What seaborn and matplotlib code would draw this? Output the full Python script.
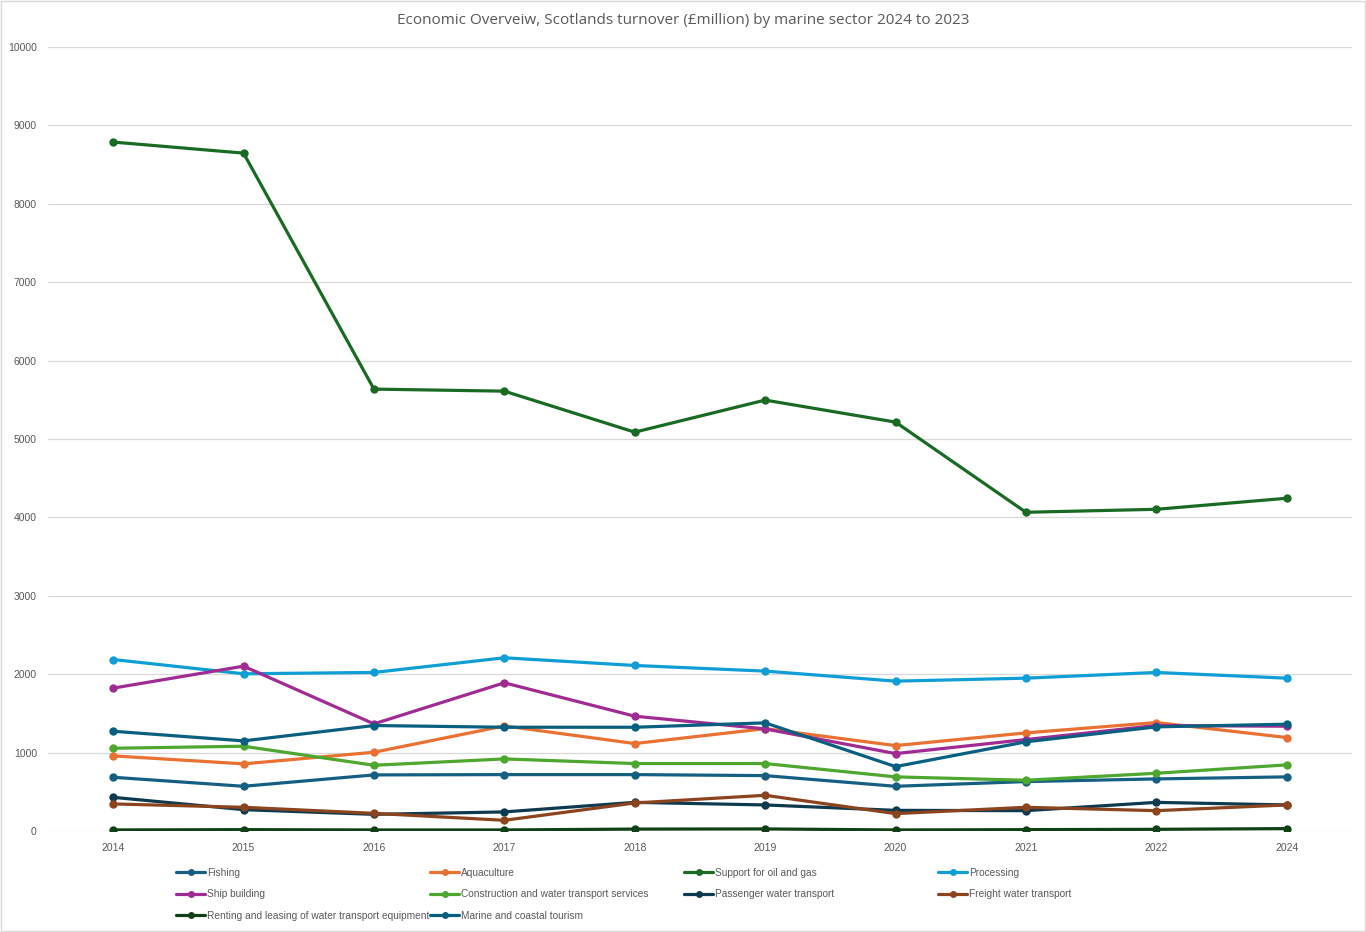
import pandas as pd
import matplotlib
matplotlib.use("Agg")
import matplotlib.pyplot as plt
from matplotlib.lines import Line2D
import seaborn as sns

# ---- data (turnover, £million) ----
years = ["2014", "2015", "2016", "2017", "2018", "2019", "2020", "2021", "2022", "2024"]

fishing = [685, 570, 715, 719, 719, 706, 570, 630, 664, 690]
aquaculture = [958, 856, 1004, 1340, 1115, 1305, 1089, 1251, 1383, 1192]
oil_gas = [8787, 8646, 5636, 5610, 5087, 5496, 5215, 4065, 4103, 4244]
processing = [2187, 2005, 2022, 2209, 2111, 2039, 1911, 1949, 2022, 1949]
ship_building = [1822, 2102, 1366, 1890, 1464, 1302, 987, 1166, 1345, 1336]
construction = [1055, 1081, 838, 919, 860, 860, 690, 647, 736, 843]
passenger = [429, 272, 212, 243, 365, 332, 263, 259, 365, 332]
freight = [345, 302, 225, 136, 357, 455, 221, 302, 259, 332]
renting = [13, 17, 13, 13, 24, 26, 13, 17, 21, 30]
tourism = [1272, 1149, 1345, 1323, 1323, 1379, 821, 1137, 1328, 1362]

sectors = [
    "Fishing", "Aquaculture", "Support for oil and gas", "Processing",
    "Ship building", "Construction and water transport services",
    "Passenger water transport", "Freight water transport",
    "Renting and leasing of water transport equipment", "Marine and coastal tourism",
]
series = [fishing, aquaculture, oil_gas, processing, ship_building,
          construction, passenger, freight, renting, tourism]
colors = ["#156082", "#E97132", "#196B24", "#0F9ED5", "#A02B93",
          "#4EA72E", "#0D3A4E", "#8C441E", "#0F4016", "#095F80"]

rows = []
for name, vals in zip(sectors, series):
    for yr, v in zip(years, vals):
        rows.append({"year": yr, "sector": name, "value": v})
df = pd.DataFrame(rows)

sns.set_theme(style="white")
plt.rcParams["font.family"] = ["Liberation Sans", "DejaVu Sans"]

fig = plt.figure(figsize=(13.66, 9.32), dpi=100)
ax = fig.add_axes([0.0351, 0.1084, 0.9546, 0.8412])

palette = dict(zip(sectors, colors))
sns.lineplot(data=df, x="year", y="value", hue="sector", hue_order=sectors,
             palette=palette, marker="o", markersize=6, markeredgewidth=0,
             linewidth=2.3, sort=False, legend=False, ax=ax)

ax.set_xlim(-0.5, len(years) - 0.5)
ax.set_ylim(0, 10000)
ax.set_yticks(range(0, 10001, 1000))
ax.yaxis.grid(True, color="#D9D9D9", linewidth=0.9)
ax.set_axisbelow(True)
for s in ax.spines.values():
    s.set_visible(False)
ax.set_xlabel("")
ax.set_ylabel("")
ax.tick_params(axis="both", length=0, labelsize=7.5, labelcolor="#595959")
ax.tick_params(axis="y", pad=8)
ax.tick_params(axis="x", pad=9)

fig.text(0.5, 0.978, "Economic Overveiw, Scotlands turnover (£million) by marine sector 2024 to 2023",
         ha="center", va="center", fontsize=11, color="#595959",
         family=["Open Sans", "DejaVu Sans"])

# legend: four columns at fixed positions, filled row by row
col_x = [176, 430, 684, 938]
for c in range(4):
    idx = list(range(c, len(sectors), 4))
    handles = [Line2D([0], [0], color=colors[i], linewidth=2.3, marker="o",
                      markersize=5, markeredgewidth=0) for i in idx]
    labels = [sectors[i] for i in idx]
    fig.legend(handles, labels, loc="upper left",
               bbox_to_anchor=(col_x[c] / 1366, 1 - 867.5 / 932),
               frameon=False, fontsize=7.3, labelcolor="#595959",
               handlelength=2.9, handletextpad=0.15, borderpad=0,
               borderaxespad=0, labelspacing=1.15)

fig.patches.append(plt.Rectangle((0.001, 0.001), 0.998, 0.998, transform=fig.transFigure,
                                 fill=False, edgecolor="#D9D9D9", linewidth=1))

fig.savefig("out.png", dpi=100)
